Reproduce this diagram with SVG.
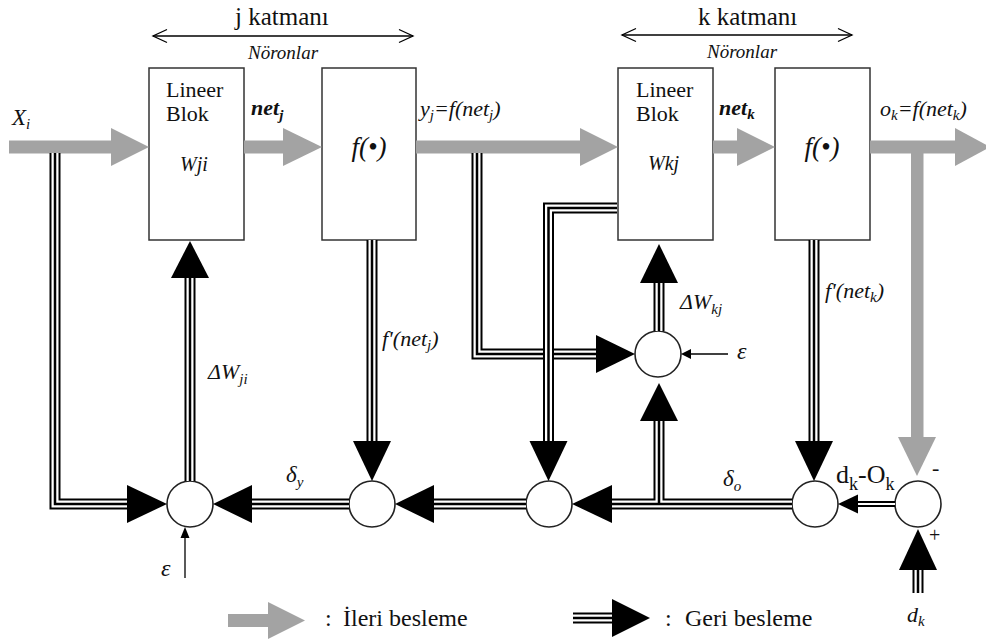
<svg xmlns="http://www.w3.org/2000/svg" width="986" height="642" viewBox="0 0 986 642" font-family="Liberation Serif, serif">
  <style>
    text { fill: #111; }
    .it { font-style: italic; }
    .bi { font-style: italic; font-weight: bold; }
    .box { fill: #fff; stroke: #333; stroke-width: 1.5; }
    .sum { fill: #fff; stroke: #222; stroke-width: 1.6; }
    .ff { fill: #a3a3a3; }
    .p1 { fill: none; stroke: #000; stroke-width: 11; }
    .p2 { fill: none; stroke: #fff; stroke-width: 7; }
    .p3 { fill: none; stroke: #000; stroke-width: 2.5; }
    .hd { fill: #000; }
    .thin { fill: none; stroke: #000; stroke-width: 1.3; }
  </style>

  <!-- layer headings -->
  <g id="layer-j" font-family="Liberation Serif, serif">
    <text x="235" y="25" font-size="25">j katmanı</text>
    <line class="thin" x1="153" y1="36" x2="413" y2="36"/>
    <polyline class="thin" points="167,29.5 153,36 167,42.5"/>
    <polyline class="thin" points="399,29.5 413,36 399,42.5"/>
    <text class="it" x="248" y="59" font-size="19">Nöronlar</text>
  </g>
  <g id="layer-k" font-family="Liberation Serif, serif">
    <text x="698" y="25" font-size="25">k katmanı</text>
    <line class="thin" x1="622" y1="35" x2="852" y2="35"/>
    <polyline class="thin" points="636,28.5 622,35 636,41.5"/>
    <polyline class="thin" points="838,28.5 852,35 838,41.5"/>
    <text class="it" x="707" y="58" font-size="19">Nöronlar</text>
  </g>

  <!-- blocks -->
  <g id="linear-j" font-family="Liberation Serif, serif">
    <rect class="box" x="149" y="68" width="95" height="172"/>
    <text x="166" y="97" font-size="22">Lineer</text>
    <text x="166" y="121" font-size="22">Blok</text>
    <text class="it" x="180" y="171" font-size="20">Wji</text>
  </g>
  <g id="act-j" font-family="Liberation Serif, serif">
    <rect class="box" x="322" y="68" width="94" height="172"/>
    <text class="it" x="369" y="156" font-size="27" text-anchor="middle">f(•)</text>
  </g>
  <g id="linear-k" font-family="Liberation Serif, serif">
    <rect class="box" x="618" y="68" width="95" height="172"/>
    <text x="636" y="97" font-size="22">Lineer</text>
    <text x="636" y="121" font-size="22">Blok</text>
    <text class="it" x="648" y="170" font-size="20">Wkj</text>
  </g>
  <g id="act-k" font-family="Liberation Serif, serif">
    <rect class="box" x="775" y="68" width="95" height="172"/>
    <text class="it" x="822" y="156" font-size="27" text-anchor="middle">f(•)</text>
  </g>

  <!-- summing junctions -->
  <g id="sum-j"><circle class="sum" cx="190" cy="504" r="23"/></g>
  <g id="delta-y"><circle class="sum" cx="372" cy="504" r="23"/></g>
  <g id="back-k"><circle class="sum" cx="549" cy="504" r="23"/></g>
  <g id="sum-k"><circle class="sum" cx="658" cy="354" r="23"/></g>
  <g id="delta-o"><circle class="sum" cx="815" cy="504" r="23"/></g>
  <g id="error"><circle class="sum" cx="918" cy="504" r="23"/></g>

  <g id="connectors">
    <!-- forward path (grey) -->
    <rect class="ff" x="9" y="140.5" width="103" height="13"/>
    <polygon class="ff" points="111,128 149,147 111,166"/>
    <rect class="ff" x="244" y="140.5" width="40" height="13"/>
    <polygon class="ff" points="283,128 322,147 283,166"/>
    <rect class="ff" x="416" y="140.5" width="165" height="13"/>
    <polygon class="ff" points="580,128 618,147 580,166"/>
    <rect class="ff" x="713" y="140.5" width="25" height="13"/>
    <polygon class="ff" points="737,128 775,147 737,166"/>
    <rect class="ff" x="870" y="140.5" width="86" height="13"/>
    <polygon class="ff" points="955,128 990,147 955,166"/>
    <rect class="ff" x="911" y="153" width="12.5" height="285"/>
    <polygon class="ff" points="898,437 936,437 917,476"/>

    <!-- feedback paths (triple line) -->
    <g>
      <path class="p1" d="M55,153 V504 H128"/>
      <path class="p2" d="M55,153 V504 H128"/>
      <path class="p3" d="M55,153 V504 H128"/>
      <polygon class="hd" points="127,485 167,504 127,523"/>
    </g>
    <g>
      <path class="p1" d="M190,481 V277"/>
      <path class="p2" d="M190,481 V277"/>
      <path class="p3" d="M190,481 V277"/>
      <polygon class="hd" points="171,278 209,278 190,241"/>
    </g>
    <g>
      <path class="p1" d="M372,240 V442"/>
      <path class="p2" d="M372,240 V442"/>
      <path class="p3" d="M372,240 V442"/>
      <polygon class="hd" points="353,441 391,441 372,481"/>
    </g>
    <g>
      <path class="p1" d="M349,504 H251"/>
      <path class="p2" d="M349,504 H251"/>
      <path class="p3" d="M349,504 H251"/>
      <polygon class="hd" points="252,485 213,504 252,523"/>
    </g>
    <g>
      <path class="p1" d="M526,504 H433"/>
      <path class="p2" d="M526,504 H433"/>
      <path class="p3" d="M526,504 H433"/>
      <polygon class="hd" points="434,485 395,504 434,523"/>
    </g>
    <g>
      <path class="p1" d="M792,504 H611 M659,504 V420"/>
      <path class="p2" d="M792,504 H611 M659,504 V420"/>
      <path class="p3" d="M792,504 H611 M659,504 V420"/>
      <polygon class="hd" points="612,485 572,504 612,523"/>
      <polygon class="hd" points="640,421 678,421 659,383"/>
    </g>
    <g>
      <path class="p1" d="M814,240 V442"/>
      <path class="p2" d="M814,240 V442"/>
      <path class="p3" d="M814,240 V442"/>
      <polygon class="hd" points="795,441 833,441 814,481"/>
    </g>
    <g>
      <path class="p1" d="M477,153 V354 H597"/>
      <path class="p2" d="M477,153 V354 H597"/>
      <path class="p3" d="M477,153 V354 H597"/>
      <polygon class="hd" points="596,335 635,354 596,373"/>
    </g>
    <g>
      <path class="p1" d="M617,208 H548.5 V442"/>
      <path class="p2" d="M617,208 H548.5 V442"/>
      <path class="p3" d="M617,208 H548.5 V442"/>
      <polygon class="hd" points="529.5,441 567.5,441 548.5,481"/>
    </g>
    <g>
      <path class="p1" d="M659,331 V282"/>
      <path class="p2" d="M659,331 V282"/>
      <path class="p3" d="M659,331 V282"/>
      <polygon class="hd" points="640,283 678,283 659,244"/>
    </g>
    <g>
      <path class="p1" d="M918,593 V569"/>
      <path class="p2" d="M918,593 V569"/>
      <path class="p3" d="M918,593 V569"/>
      <polygon class="hd" points="899,570 937,570 918,529"/>
    </g>
    <!-- error to delta-o (double line) -->
    <path d="M895,504 H856" fill="none" stroke="#000" stroke-width="6"/>
    <path d="M895,504 H856" fill="none" stroke="#fff" stroke-width="2"/>
    <polygon class="hd" points="858,494.5 838,504 858,513.5"/>

    <!-- learning-rate inputs -->
    <line class="thin" x1="728" y1="354" x2="690" y2="354"/>
    <polygon class="hd" points="691,349 681,354 691,359"/>
    <line class="thin" x1="185" y1="578" x2="185" y2="537"/>
    <polygon class="hd" points="180.5,538 185,527 189.5,538"/>
  </g>

  <!-- signal labels -->
  <g id="labels" font-family="Liberation Serif, serif">
    <text class="it" x="12" y="125" font-size="23">X<tspan font-size="15" dy="4">i</tspan></text>
    <text class="bi" x="251" y="115" font-size="22">net<tspan font-size="15" dy="5">j</tspan></text>
    <text class="it" x="420" y="116" font-size="22">y<tspan font-size="15" dy="4">j</tspan><tspan dy="-4">=f(net</tspan><tspan font-size="15" dy="4">j</tspan><tspan dy="-4">)</tspan></text>
    <text class="bi" x="719" y="115" font-size="22">net<tspan font-size="15" dy="4">k</tspan></text>
    <text class="it" x="880" y="116" font-size="22">o<tspan font-size="15" dy="4">k</tspan><tspan dy="-4">=f(net</tspan><tspan font-size="15" dy="4">k</tspan><tspan dy="-4">)</tspan></text>
    <text class="it" x="208" y="379" font-size="22">ΔW<tspan font-size="15" dy="5">ji</tspan></text>
    <text class="it" x="382" y="346" font-size="22">f'(net<tspan font-size="15" dy="4">j</tspan><tspan dy="-4">)</tspan></text>
    <text class="it" x="825" y="298" font-size="22">f'(net<tspan font-size="15" dy="4">k</tspan><tspan dy="-4">)</tspan></text>
    <text class="it" x="680" y="309" font-size="22">ΔW<tspan font-size="15" dy="5">kj</tspan></text>
    <text class="it" x="737" y="359" font-size="24">ε</text>
    <text class="it" x="161" y="576" font-size="24">ε</text>
    <text class="it" x="286" y="482" font-size="23">δ<tspan font-size="15" dy="5">y</tspan></text>
    <text class="it" x="723" y="486" font-size="23">δ<tspan font-size="15" dy="5">o</tspan></text>
    <text x="836" y="483" font-size="26">d<tspan font-size="18" dy="7">k</tspan><tspan dy="-7">-O</tspan><tspan font-size="18" dy="7">k</tspan></text>
    <text x="932" y="475" font-size="22">-</text>
    <text x="929" y="542" font-size="20">+</text>
    <text class="it" x="907" y="622" font-size="22">d<tspan font-size="15" dy="4">k</tspan></text>
  </g>

  <!-- legend -->
  <g id="legend" font-family="Liberation Serif, serif">
    <rect class="ff" x="228" y="614" width="41" height="13"/>
    <polygon class="ff" points="268,602 305,620.5 268,639"/>
    <text x="325" y="626" font-size="24">:</text>
    <text x="343" y="626" font-size="24">İleri besleme</text>
    <path class="p1" d="M573,618 H613"/>
    <path class="p2" d="M573,618 H613"/>
    <path class="p3" d="M573,618 H613"/>
    <polygon class="hd" points="612,599 650,618 612,637"/>
    <text x="665" y="626" font-size="24">:</text>
    <text x="685" y="626" font-size="24">Geri besleme</text>
  </g>
</svg>
